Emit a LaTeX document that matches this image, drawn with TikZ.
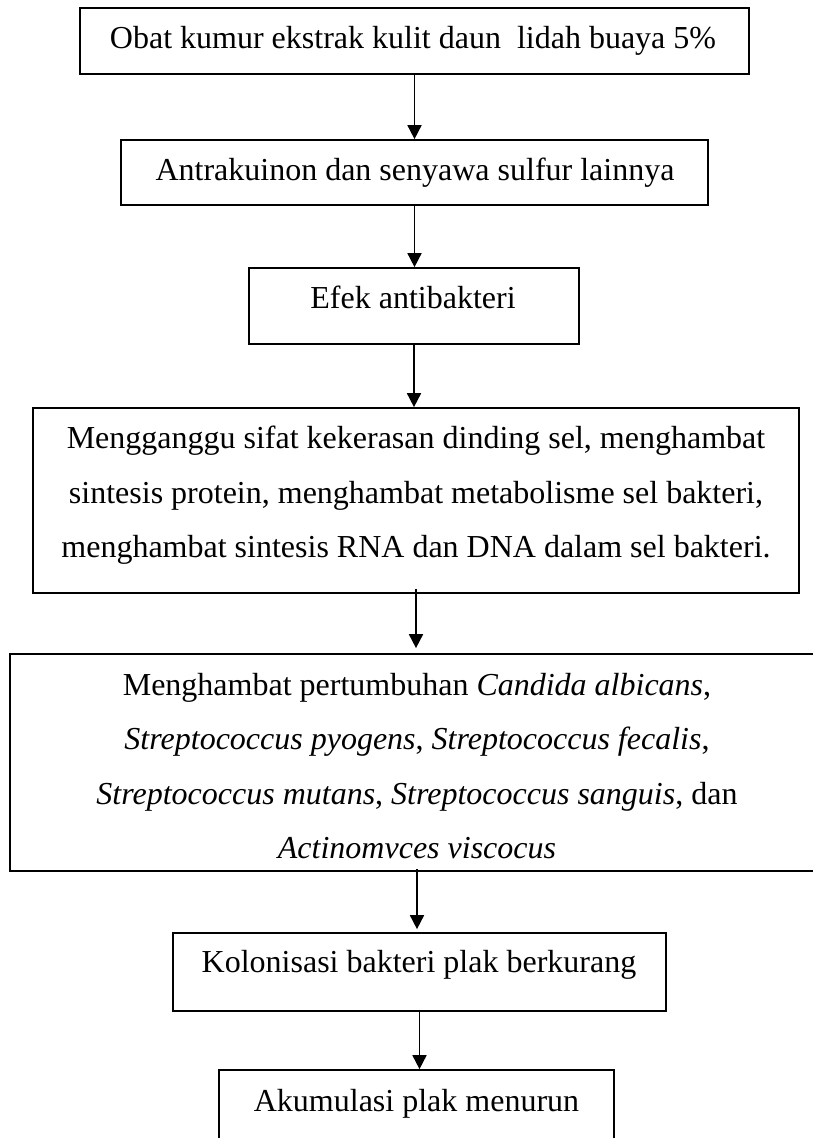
\documentclass[tikz,border=0pt]{standalone}
\usepackage{fontspec}
\setmainfont{Liberation Serif}
\usetikzlibrary{arrows.meta}
\begin{document}
\begin{tikzpicture}[x=1pt,y=-1pt,
  box/.style={draw, line width=1.7pt, inner sep=0pt},
  txt/.style={inner sep=0pt, font=\fontsize{32}{54.3}\selectfont},
  arr/.style={line width=1.7pt, -{Triangle[length=14pt,width=14pt]}}]
\useasboundingbox (0,0) rectangle (812,1138);
% boxes
\node[box, minimum width=669pt, minimum height=66pt] (b1) at (414.5,41) {};
\node[box, minimum width=587pt, minimum height=65pt] (b2) at (414.5,172.5) {};
\node[box, minimum width=330pt, minimum height=76pt] (b3) at (414,306) {};
\node[box, minimum width=766pt, minimum height=185pt] (b4) at (416,500.5) {};
\node[box, minimum width=814pt, minimum height=217pt] (b5) at (417,762.5) {};
\node[box, minimum width=493pt, minimum height=78pt] (b6) at (419.5,972) {};
\node[box, minimum width=395pt, minimum height=90pt] (b7) at (416.5,1115) {};
% texts
\node[txt, anchor=base] (t1) at (413,48) {Obat kumur ekstrak kulit daun \ lidah buaya 5\%};
\node[txt, anchor=base] (t2) at (415,180) {Antrakuinon dan senyawa sulfur lainnya};
\node[txt, anchor=base] (t3) at (413,308) {Efek antibakteri};
\node[txt, align=center, anchor=north] (t4) at (416,426) {Mengganggu sifat kekerasan dinding sel, menghambat\\sintesis protein, menghambat metabolisme sel bakteri,\\menghambat sintesis RNA dan DNA dalam sel bakteri.};
\node[txt, align=center, anchor=north] (t5) at (417,673) {Menghambat pertumbuhan \textit{Candida albicans},\\\textit{Streptococcus pyogens}, \textit{Streptococcus fecalis},\\\textit{Streptococcus mutans}, \textit{Streptococcus sanguis}, dan\\\textit{Actinomvces viscocus}};
\node[txt, anchor=base] (t6) at (419,972) {Kolonisasi bakteri plak berkurang};
\node[txt, anchor=base] (t7) at (416.5,1111) {Akumulasi plak menurun};
% arrows
\draw[arr] (b1.south) -- (b1.south |- b2.north);
\draw[arr] (b2.south) -- (b2.south |- b3.north);
\draw[arr] (b3.south) -- (b3.south |- b4.north);
\draw[arr] ([yshift=5pt]b4.south) -- ([yshift=5pt]b4.south |- b5.north);
\draw[arr] ([yshift=3pt]b5.south) -- ([yshift=3pt]b5.south |- b6.north);
\draw[arr] (b6.south) -- (b6.south |- b7.north);
\end{tikzpicture}
\end{document}
